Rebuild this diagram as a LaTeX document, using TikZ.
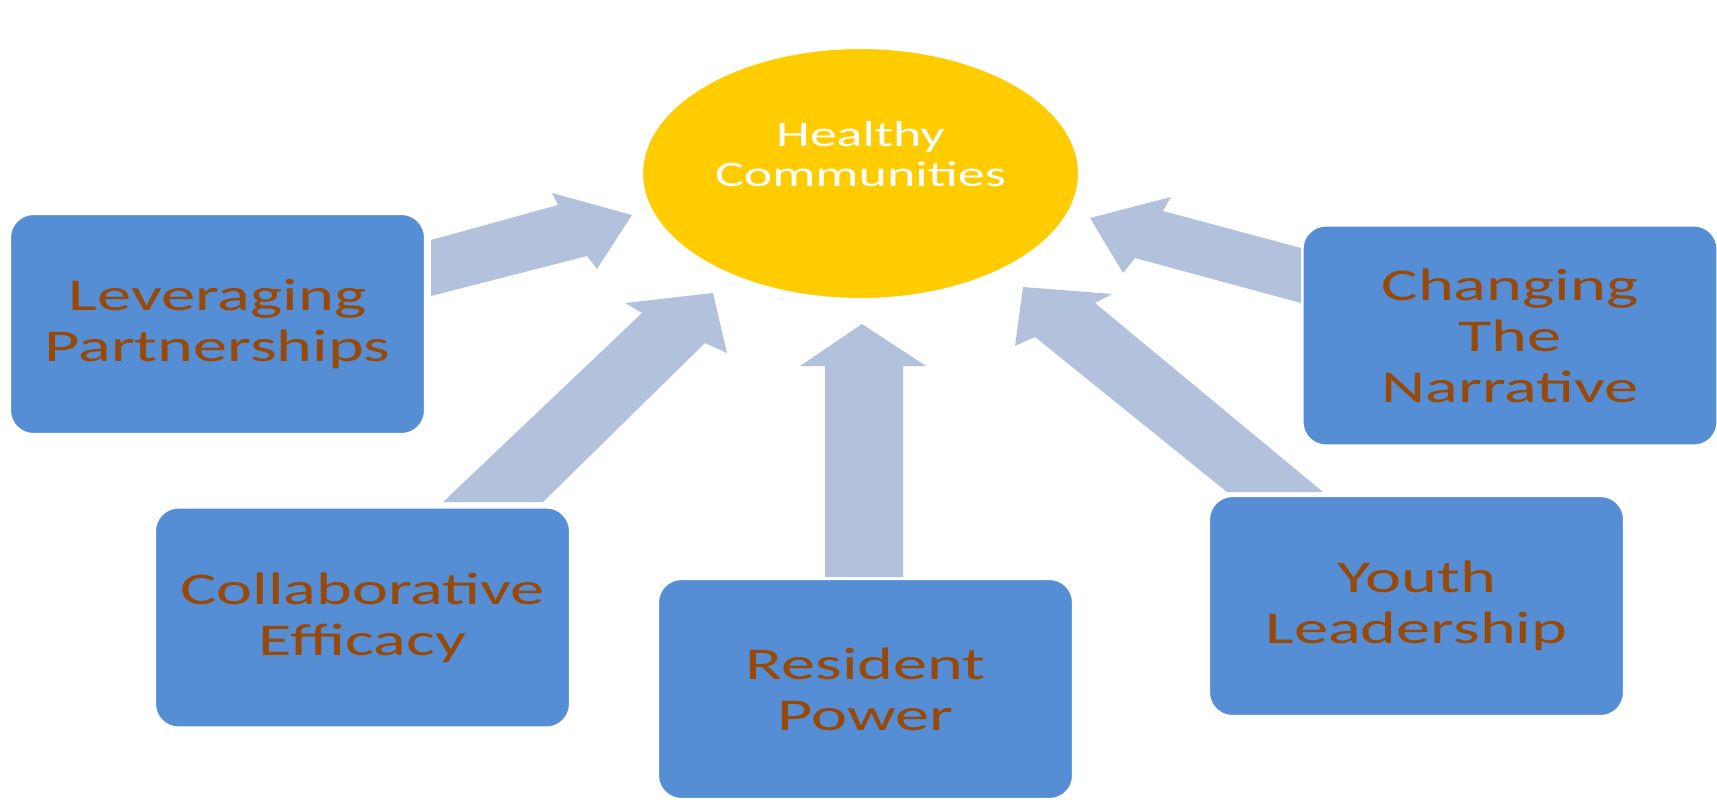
\documentclass[tikz,border=0pt]{standalone}
\usepackage{fontspec}
\setmainfont{Carlito}[FakeStretch=1.5]
\usetikzlibrary{shapes.geometric}

\definecolor{azulcaixa}{RGB}{85,142,213}
\definecolor{marrom}{RGB}{152,72,7}
\definecolor{azulseta}{RGB}{179,194,220}
\definecolor{amarelo}{RGB}{255,204,0}

\tikzset{
	caixa/.style={rectangle, rounded corners=0.5cm, fill=azulcaixa, draw=white, line width=0.1cm,
		minimum width=8.36cm, minimum height=4.46cm, align=center, text=marrom,
		font=\fontsize{25.9}{29}\selectfont},
	centro/.style={ellipse, fill=amarelo, draw=white, line width=0.1cm,
		minimum width=8.8cm, minimum height=5.08cm},
	seta/.style={fill=azulseta},
}

\begin{document}
\begin{tikzpicture}[x=0.02cm, y=0.02cm]
	\useasboundingbox (0,0) rectangle (1717,-799);

% elipse central
	\node[centro] (hc) at (860.5,-173.5) {};
	\node[align=center, inner sep=0pt, text=white, font=\fontsize{20.5}{22.8}\selectfont]
		(hctxt) at (860.5,-154) {Healthy\\Communities};

% caixas
	\foreach \nome/\pos/\txt in {lev/{(217.5,-324)}/{Leveraging\\Partnerships},
		col/{(362.5,-617.5)}/{Collaborative\\Efficacy},
		res/{(865.5,-689)}/{Resident\\Power},
		you/{(1416.5,-606)}/{Youth\\Leadership},
		cha/{(1510,-335.5)}/{Changing\\The\\Narrative}}
		\node[caixa] (\nome) at \pos {\txt};

% setas (pontas)
	\coordinate (p1) at (632,-215);
	\coordinate (p2) at (713,-293);
	\coordinate (p3) at (862,-324);
	\coordinate (p4) at (1023,-287);
	\coordinate (p5) at (1090,-218);

% setas
	\fill[seta] (431,-240) -- (558,-205) -- (552,-193) -- (p1) -- (597,-269) -- (587,-256) -- (431,-296) -- cycle;
	\fill[seta] (443,-502) -- (642,-313) -- (625,-303) -- (p2) -- (727,-353) -- (705,-343) -- (543,-502) -- cycle;
	\fill[seta] (825,-577) -- (825,-366) -- (800,-366) -- (p3) -- (926,-366) -- (903,-366) -- (903,-577) -- cycle;
	\fill[seta] (1323,-492) -- (1095,-303) -- (1112,-294) -- (p4) -- (1015,-346) -- (1035,-337) -- (1227,-492) -- cycle;
	\fill[seta] (1301,-248) -- (1163,-211) -- (1171,-197) -- (p5) -- (1123,-273) -- (1135,-258) -- (1301,-303) -- cycle;
\end{tikzpicture}
\end{document}
